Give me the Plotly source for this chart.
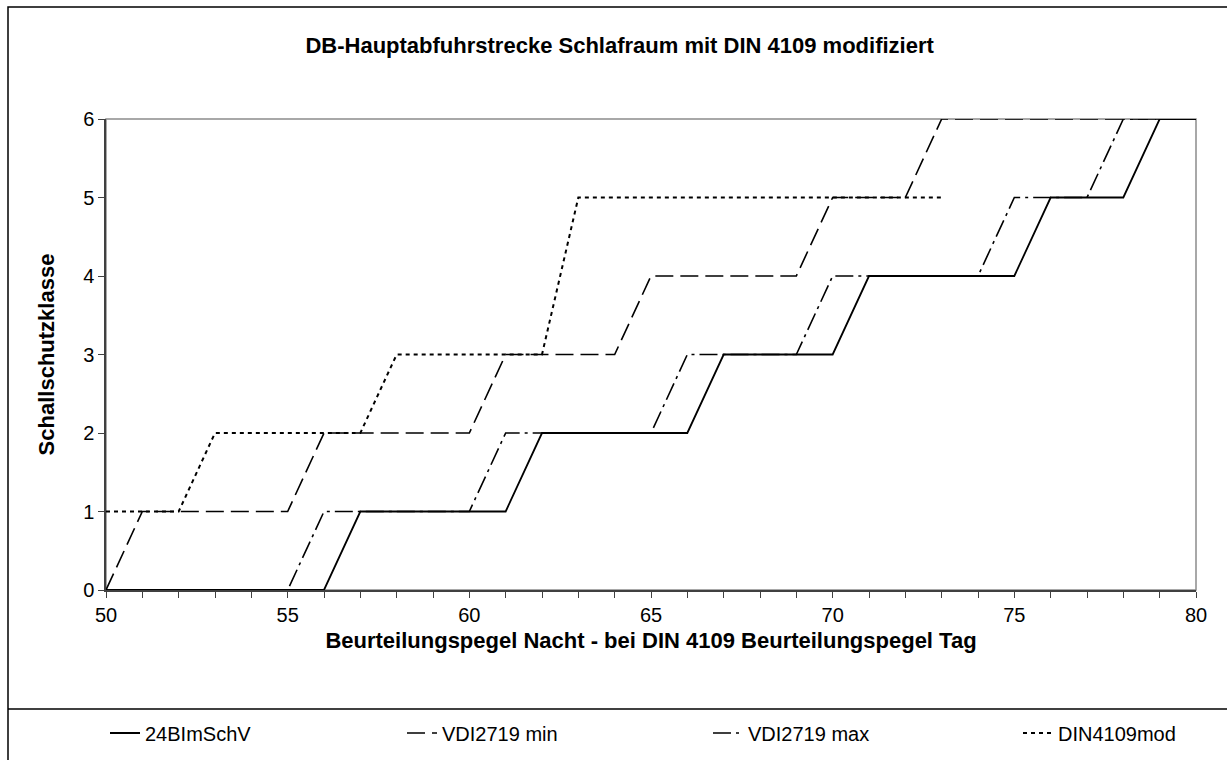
import plotly.graph_objects as go

# ---- data ----
x_vals = list(range(50, 81))
bimschv = [0, 0, 0, 0, 0, 0, 0, 1, 1, 1, 1, 1, 2, 2, 2, 2, 2, 3, 3, 3, 3, 4, 4, 4, 4, 4, 5, 5, 5, 6, 6]
vdi_min = [0, 1, 1, 1, 1, 1, 2, 2, 2, 2, 2, 3, 3, 3, 3, 4, 4, 4, 4, 4, 5, 5, 5, 6, 6, 6, 6, 6, 6, 6, 6]
vdi_max = [0, 0, 0, 0, 0, 0, 1, 1, 1, 1, 1, 2, 2, 2, 2, 2, 3, 3, 3, 3, 4, 4, 4, 4, 4, 5, 5, 5, 6, 6, 6]
din_x = list(range(50, 74))
din_mod = [1, 1, 1, 2, 2, 2, 2, 2, 3, 3, 3, 3, 3, 5, 5, 5, 5, 5, 5, 5, 5, 5, 5, 5]

series_names = ["24BImSchV", "VDI2719 min", "VDI2719 max", "DIN4109mod"]
title_text = "DB-Hauptabfuhrstrecke Schlafraum mit DIN 4109 modifiziert"
x_title = "Beurteilungspegel Nacht - bei DIN 4109 Beurteilungspegel Tag"
y_title = "Schallschutzklasse"
x_ticks = [50, 55, 60, 65, 70, 75, 80]
y_ticks = [0, 1, 2, 3, 4, 5, 6]

FONT = "Liberation Sans, Arial, sans-serif"
W, H = 1227, 760
ML, MR, MT, MB = 106, 31, 119, 170
PW = W - ML - MR
PH = H - MT - MB


def px_x(p):
    return (p - ML) / PW


def px_y(p):
    return (H - MB - p) / PH


fig = go.Figure()
styles = [
    dict(dash="solid", width=1.8),
    dict(dash="18px,7px", width=1.6),
    dict(dash="18px,5px,3px,5px", width=1.6),
    dict(dash="4px,4px", width=2.0),
]
xs = [x_vals, x_vals, x_vals, din_x]
ys = [bimschv, vdi_min, vdi_max, din_mod]
legend_ids = ["legend", "legend2", "legend3", "legend4"]
text_starts = [145, 442, 748, 1058]

for i in range(4):
    fig.add_trace(go.Scatter(
        x=xs[i], y=ys[i], mode="lines", name=series_names[i],
        line=dict(color="black", **styles[i]),
        legend=legend_ids[i],
    ))

legend_common = dict(
    orientation="h", yanchor="middle", xanchor="left",
    y=px_y(733), bgcolor="rgba(0,0,0,0)", borderwidth=0,
    font=dict(family=FONT, size=20, color="black"),
)
layout_legends = {}
for i, lid in enumerate(legend_ids):
    layout_legends[lid] = dict(legend_common, x=px_x(text_starts[i] - 40))

fig.update_layout(
    width=W, height=H,
    margin=dict(l=ML, r=MR, t=MT, b=MB, autoexpand=False),
    paper_bgcolor="white", plot_bgcolor="white",
    showlegend=True,
    title=dict(
        text=f"<b>{title_text}</b>", x=0.505, xanchor="center",
        y=1 - 45 / H, yanchor="middle",
        font=dict(family=FONT, size=22, color="black"),
    ),
    font=dict(family=FONT, size=20, color="black"),
    **layout_legends,
)

fig.update_xaxes(
    range=[50, 80], tickvals=x_ticks, ticks="outside", ticklen=6,
    tickcolor="#404040", tickwidth=1,
    minor=dict(dtick=1, ticks="outside", ticklen=6, tickcolor="#404040", tickwidth=1, showgrid=False),
    showline=True, linecolor="#404040", linewidth=1.5,
    showgrid=False, zeroline=False,
    tickfont=dict(family=FONT, size=20, color="black"),
    title=dict(text=f"<b>{x_title}</b>", standoff=8,
               font=dict(family=FONT, size=22, color="black")),
)
fig.update_yaxes(
    range=[0, 6], tickvals=y_ticks, ticks="outside", ticklen=6,
    tickcolor="#404040", tickwidth=1,
    showline=True, linecolor="#404040", linewidth=1.5,
    showgrid=False, zeroline=False,
    tickfont=dict(family=FONT, size=20, color="black"),
    title=dict(text=f"<b>{y_title}</b>", standoff=22,
               font=dict(family=FONT, size=22, color="black")),
)

# plot-area frame (gray), outer chart border, legend separator
fig.add_shape(type="rect", xref="paper", yref="paper", x0=0, x1=1, y0=0, y1=1,
              line=dict(color="#8c8c8c", width=1.5), layer="below")
fig.add_shape(type="rect", xref="paper", yref="paper",
              x0=px_x(8), x1=px_x(1240), y0=px_y(780), y1=px_y(7),
              line=dict(color="black", width=1.5), layer="below")
fig.add_shape(type="line", xref="paper", yref="paper",
              x0=px_x(8), x1=px_x(1240), y0=px_y(709), y1=px_y(709),
              line=dict(color="black", width=1.5), layer="below")

fig.write_html("out.html")
